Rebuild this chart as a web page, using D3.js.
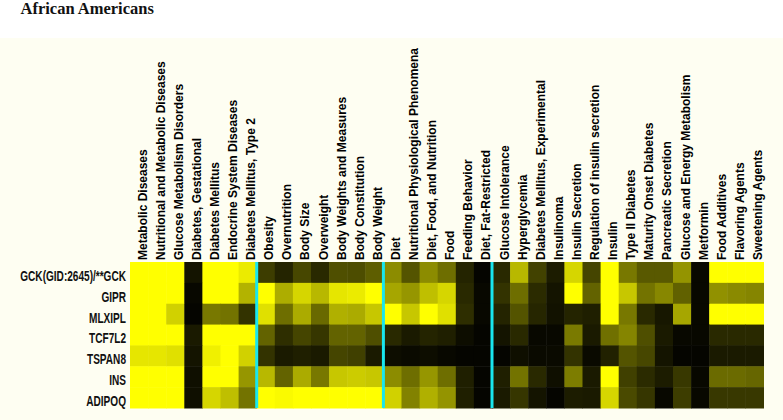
<!DOCTYPE html>
<html>
<head>
<meta charset="utf-8">
<script src="https://cdn.jsdelivr.net/npm/d3@7"></script>
<style>
  body { margin: 0; background: #fff; }
  .col-label { font-family: "Liberation Sans", Arial, sans-serif; font-weight: bold; font-size: 12px; fill: #000; }
  .row-label { font-family: "Liberation Sans", Arial, sans-serif; font-weight: bold; font-size: 15.5px; fill: #111; }
  .title { font-family: "Liberation Serif", "Times New Roman", serif; font-weight: bold; font-size: 16.5px; fill: #111; }
</style>
</head>
<body>
<div id="chart"></div>
<script>
// MeSH terms (columns), grouped by the cyan separators
var terms = [
  "Metabolic Diseases", "Nutritional and Metabolic Diseases", "Glucose Metabolism Disorders",
  "Diabetes, Gestational", "Diabetes Mellitus", "Endocrine System Diseases", "Diabetes Mellitus, Type 2",
  "Obesity", "Overnutrition", "Body Size", "Overweight", "Body Weights and Measures",
  "Body Constitution", "Body Weight",
  "Diet", "Nutritional Physiological Phenomena", "Diet, Food, and Nutrition", "Food",
  "Feeding Behavior", "Diet, Fat-Restricted",
  "Glucose Intolerance", "Hyperglycemia", "Diabetes Mellitus, Experimental", "Insulinoma",
  "Insulin Secretion", "Regulation of insulin secretion", "Insulin", "Type II Diabetes",
  "Maturity Onset Diabetes", "Pancreatic Secretion", "Glucose and Energy Metabolism",
  "Metformin", "Food Additives", "Flavoring Agents", "Sweetening Agents"
];

// separators drawn after these column counts
var groupBreaks = [7, 14, 20];

var genes = ["GCK(GID:2645)/**GCK", "GIPR", "MLXIPL", "TCF7L2", "TSPAN8", "INS", "ADIPOQ"];

// intensity 0 (black) .. 100 (yellow), one array per gene
var gck    = [100,100,100, 8,100,100, 92,  24,14,28,16,31,30,37,  55,33,55,43,14, 2,
              16,72,26,11,84,27,100,47,35,35,58, 3,100,100,100];
var gipr   = [100,100,100, 3,100,100, 70, 100,68,84,72,90,92,100, 65,59,75,84,16, 3,
              20,43,17, 8,100,39,100,78,45,53,38, 3,57,54,52];
var mlxipl = [100,100,82, 2,47,45,20,  88,43,67,41,69,67,78, 100,78,100,88,18, 3,
              14,33,15, 7,14,12,100,47,16, 9,65, 3,100,100,100];
var tcf7l2 = [100,100,100,10,100,100,100, 39,18,27,21,39,39,31, 16,10,14,12, 5, 2,
               8,16, 3, 3,48,10,44,52,31,10, 3, 3,16,16,16];
var tspan8 = [90,90,88, 8,94,100,82,   20,10,12,10,27,25,10,  5, 4, 5, 3, 2, 2,
               2, 6, 4, 4,20, 4,13,33,28, 8, 2, 2,10,10,10];
var ins    = [100,100,100, 6,100,100,59, 72,39,67,47,78,80,78, 55,43,59,43,12, 2,
              12,45,16, 6,49,10,100,25,17,11,22, 3,42,42,40];
var adipoq = [100,100,100, 6,84,75,45, 100,98,100,100,100,100,100, 82,51,69,58,12, 2,
              10,21, 8, 2,11,10,84,29,21, 3,24, 3,22,22,22];

var values = [gck, gipr, mlxipl, tcf7l2, tspan8, ins, adipoq];

var cells = [];
values.forEach(function(row, r) {
  row.forEach(function(v, c) {
    cells.push({gene: genes[r], term: terms[c], value: v});
  });
});

var width = 783, height = 420;

var svg = d3.select("#chart").append("svg")
    .attr("width", width)
    .attr("height", height);

// cream panel under the title strip
svg.append("rect")
    .attr("x", 0).attr("y", 38)
    .attr("width", width).attr("height", height - 38)
    .attr("fill", "#fefef2");

svg.append("text")
    .attr("class", "title")
    .attr("x", 20.5)
    .attr("y", 14)
    .text("African Americans");

var x = d3.scaleBand().domain(terms).range([130, 763.5]);
var y = d3.scaleBand().domain(genes).range([262, 408]);

var color = d3.scaleLinear()
    .domain([0, 100])
    .range(["#000000", "#ffff00"]);

svg.append("g")
  .selectAll("rect")
  .data(cells)
  .enter().append("rect")
    .attr("x", function(d) { return x(d.term); })
    .attr("y", function(d) { return y(d.gene); })
    .attr("width", x.bandwidth() + 0.5)
    .attr("height", y.bandwidth() + 0.5)
    .attr("fill", function(d) { return color(d.value); });

// cyan group separators
svg.append("g")
  .selectAll("line")
  .data(groupBreaks)
  .enter().append("line")
    .attr("x1", function(d) { return x(terms[d]); })
    .attr("x2", function(d) { return x(terms[d]); })
    .attr("y1", y.range()[0])
    .attr("y2", y.range()[1])
    .attr("stroke", "#19e6ee")
    .attr("stroke-width", 3);

// column labels, rotated
svg.append("g")
  .selectAll("text")
  .data(terms)
  .enter().append("text")
    .attr("class", "col-label")
    .attr("transform", function(d) {
      return "translate(" + (x(d) + x.bandwidth() / 2 + 7.5) + ",260) rotate(-90)";
    })
    .text(function(d) { return d; });

// row labels: the reference uses a condensed face, so squeeze horizontally
var squeeze = 0.65;
svg.append("g")
    .attr("transform", "scale(" + squeeze + ",1)")
  .selectAll("text")
  .data(genes)
  .enter().append("text")
    .attr("class", "row-label")
    .attr("x", 126 / squeeze)
    .attr("y", function(d) { return y(d) + y.bandwidth() / 2 + 8.5; })
    .attr("text-anchor", "end")
    .text(function(d) { return d; });
</script>
</body>
</html>
